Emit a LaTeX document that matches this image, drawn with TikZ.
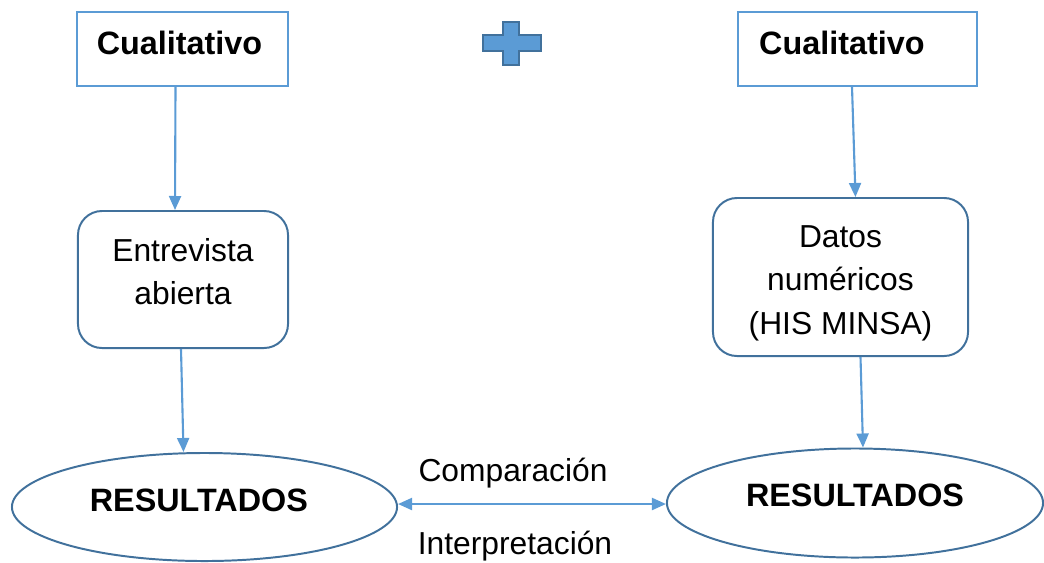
\documentclass[tikz,border=0pt]{standalone}
\usepackage{fontspec}
\setmainfont{Liberation Sans}
\usetikzlibrary{arrows.meta,shapes.geometric,calc}
\definecolor{lineblue}{HTML}{5B9BD5}
\definecolor{edgeblue}{HTML}{41719C}
\tikzset{
  negrita/.style={font=\fontsize{23}{27}\selectfont\bfseries},
  texto/.style={font=\fontsize{22.6}{31}\selectfont},
  cajarect/.style={draw=lineblue, line width=1.4pt, minimum height=1.85cm},
  cajaround/.style={draw=edgeblue, line width=1.4pt, rounded corners=0.6cm},
  resultado/.style={ellipse, draw=edgeblue, line width=1.4pt, inner sep=0pt},
  flecha/.style={draw=lineblue, line width=1.5pt, -{Triangle[length=0.35cm,width=0.3cm]}},
}

\begin{document}
\begin{tikzpicture}[x=0.025cm, y=-0.025cm]
		%%%%% START %%%%%
		\useasboundingbox (0,0) rectangle (1044,562);
		
		\node[cajarect, minimum width=5.275cm, label={[negrita, xshift=-0.075cm, yshift=0.15cm]center:Cualitativo}] (cual1) at (182.5,49) {};
		\node[cajarect, minimum width=5.975cm, label={[negrita, xshift=-0.39cm, yshift=0.15cm]center:Cualitativo}] (cual2) at (857.5,49) {};
		
		\draw[fill=lineblue, draw=edgeblue, line width=1.2pt] (503,22) -- (519,22) -- (519,35) -- (541,35) -- (541,51) -- (519,51) -- (519,65) -- (503,65) -- (503,51) -- (483,51) -- (483,35) -- (503,35) -- cycle;
		
		\node[cajaround, minimum width=5.25cm, minimum height=3.425cm, label={[texto, align=center, yshift=0.2cm]center:Entrevista\\abierta}] (entrev) at (183,279.5) {};
		\node[cajaround, minimum width=6.375cm, minimum height=3.95cm, label={[texto, align=center, yshift=-0.15cm]center:Datos\\numéricos\\(HIS MINSA)}] (datos) at (840.5,277) {};
		
		\node[resultado, minimum width=9.625cm, minimum height=2.7cm, label={[negrita, xshift=-0.14cm, yshift=0.175cm]center:RESULTADOS}] (res1) at (204.5,507) {};
		\node[resultado, minimum width=9.4cm, minimum height=2.725cm, label={[negrita, yshift=0.2cm]center:RESULTADOS}] (res2) at (855,503) {};
		
		\draw[flecha] ($(cual1.south)+(-7,0)$) -- ($(entrev.north)+(-8,0)$);
		\draw[flecha] ($(entrev.south)+(-2,0)$) -- ($(res1.north)+(-21,0)$);
		\draw[flecha] ($(cual2.south)+(-5.5,0)$) -- ($(datos.north)+(15,0)$);
		\draw[flecha] ($(datos.south)+(20,0)$) -- ($(res2.north)+(8,0)$);
		
		\draw[flecha, {Triangle[length=0.35cm,width=0.3cm]}-{Triangle[length=0.35cm,width=0.3cm]}] ($(res1.east)+(0,-3)$) -- ($(res2.west)+(0,1)$);
		\node[texto] (comp) at (513,473) {Comparación};
		\node[texto] (interp) at (515,546) {Interpretación};
		
		%%%%% END %%%%%
\end{tikzpicture}
\end{document}
